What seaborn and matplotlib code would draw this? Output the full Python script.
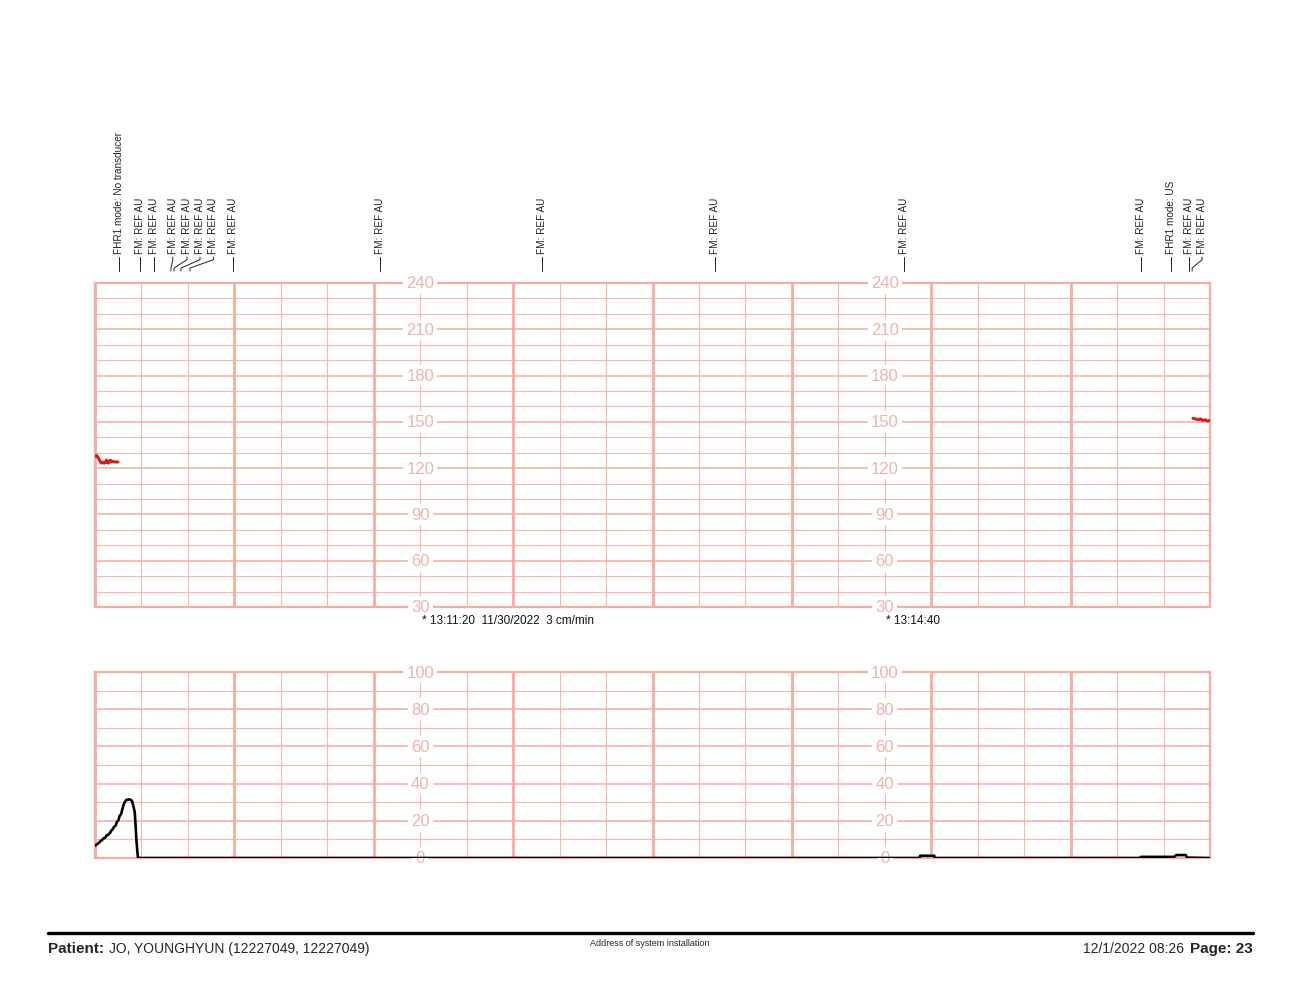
"""CTG strip page: FHR grid on top, TOCO grid below, event marks and footer"""

import numpy as np
import pandas as pd
import matplotlib
matplotlib.use('Agg')
import matplotlib.pyplot as plt
import matplotlib.transforms as mtrans
from matplotlib.lines import Line2D
import seaborn as sns

# --- data (seconds after 13:09:00) ---
fhr_a_sec = [0.1, 0.7, 1.3, 2.0, 2.7, 3.3, 3.9, 4.5, 4.9, 5.4, 5.9, 6.3, 6.7, 7.2, 7.7, 8.5, 9.9]
fhr_a_bpm = [127.8, 128.2, 127.0, 125.0, 123.3, 124.0, 123.2, 123.8, 125.2, 123.5, 123.3,
             124.8, 125.0, 124.2, 124.4, 124.0, 124.0]

fhr_b_sec = [472.7, 473.8, 474.9, 476.0, 476.7, 477.8, 478.8, 479.6]
fhr_b_bpm = [152.3, 151.9, 151.4, 151.9, 151.0, 151.3, 150.6, 150.8]

toco_sec = [0, 1, 1.6, 2.3, 3, 3.7, 4.4, 5, 5.7, 6.4, 7, 7.7, 8.2, 8.8, 9.5, 10.1, 10.6,
            11.2, 11.7, 12.3, 12.8, 13.5, 14.2, 15.0, 15.9, 16.5, 17.1, 17.5, 17.8,
            18.2, 18.5,
            355.0, 355.2, 361.3, 361.5, 450.0, 450.3, 464.5, 465.5, 469.5, 470.2, 479.6]
toco_val = [6.5, 7.6, 8.0, 9.0, 9.6, 10.6, 10.9, 12.2, 12.5, 13.4, 14.7, 15.6, 16.8, 17.2,
            19.6, 20.3, 22.7, 23.5, 25.8, 28.6, 30.0, 31.2, 31.4, 31.5, 30.8, 28.0, 24.7,
            17.0, 10.2, 4.0, 0.0,
            0.0, 1.2, 1.2, 0.0, 0.0, 0.6, 0.6, 1.6, 1.6, 0.2, 0.0]

fhr_scale = [240, 210, 180, 150, 120, 90, 60, 30]
toco_scale = [100, 80, 60, 40, 20, 0]
scale_sec = [140, 340]

stamp_sec = [140, 340]
stamp_text = ['* 13:11:20  11/30/2022  3 cm/min', '* 13:14:40']

event_text = ['FHR1 mode: No transducer', 'FM: REF AU', 'FM: REF AU', 'FM: REF AU',
              'FM: REF AU', 'FM: REF AU', 'FM: REF AU', 'FM: REF AU', 'FM: REF AU',
              'FM: REF AU', 'FM: REF AU', 'FM: REF AU', 'FM: REF AU', 'FHR1 mode: US',
              'FM: REF AU', 'FM: REF AU']
event_sec = [10.3, 19.4, 25.2, 32.7, 34.0, 37.0, 40.9, 59.4, 122.6, 192.3, 267.1,
             348.4, 450.1, 463.2, 471.0, 472.3]
label_sec = [10.3, 19.4, 25.2, 33.5, 39.6, 45.2, 51.0, 59.4, 122.6, 192.3, 267.1,
             348.4, 450.1, 463.2, 471.0, 476.6]

GRID = '#f4ada3'
LABEL = '#f0b2aa'
RED = '#d41e1e'

sns.set_style('white')
plt.rcParams['font.family'] = ['Liberation Sans', 'DejaVu Sans']

fig = plt.figure(figsize=(13, 10.04), dpi=100)
W, H = 1300, 1004


def px_axes(left, top, right, bottom):
    return fig.add_axes([left / W, 1 - bottom / H, (right - left) / W, (bottom - top) / H])


ax_fhr = px_axes(95, 284, 1210, 608)
ax_toco = px_axes(95, 673, 1210, 859)


def paper_grid(ax, ylim, ymajor, yminor):
    ax.set_xlim(0, 480)
    ax.set_ylim(*ylim)
    ax.set_xticks(np.arange(0, 481, 60))
    ax.set_xticks(np.arange(0, 481, 20), minor=True)
    ax.set_yticks(np.arange(ylim[0], ylim[1] + 1, ymajor))
    ax.set_yticks(np.arange(ylim[0], ylim[1] + 1, yminor), minor=True)
    ax.tick_params(which='both', length=0, labelbottom=False, labelleft=False)
    ax.set_axisbelow(True)
    ax.grid(which='minor', color=GRID, lw=0.8, alpha=0.85)
    ax.grid(which='major', axis='y', color=GRID, lw=1.1)
    ax.grid(which='major', axis='x', color=GRID, lw=2.0)
    for s in ax.spines.values():
        s.set_color(GRID)
        s.set_linewidth(1.6)
    ax.set_xlabel('')
    ax.set_ylabel('')


# FHR traces
sns.lineplot(data=pd.DataFrame({'sec': fhr_a_sec, 'bpm': fhr_a_bpm}), x='sec', y='bpm',
             ax=ax_fhr, color=RED, lw=2.2, sort=False, estimator=None, zorder=5)
sns.lineplot(data=pd.DataFrame({'sec': fhr_b_sec, 'bpm': fhr_b_bpm}), x='sec', y='bpm',
             ax=ax_fhr, color=RED, lw=2.2, sort=False, estimator=None, zorder=5)
paper_grid(ax_fhr, (30, 240), 30, 10)

# TOCO trace
sns.lineplot(data=pd.DataFrame({'sec': toco_sec, 'val': toco_val}), x='sec', y='val',
             ax=ax_toco, color='black', lw=1.9, sort=False, estimator=None, zorder=5)
paper_grid(ax_toco, (0, 100), 20, 10)

# scale numbers printed inside the grid
for ax, scale in [(ax_fhr, fhr_scale), (ax_toco, toco_scale)]:
    for xs in scale_sec:
        for v in scale:
            ax.text(xs, v, str(v), ha='center', va='center', fontsize=12, color=LABEL,
                    clip_on=False, zorder=3,
                    bbox=dict(boxstyle='square,pad=0.2', fc='white', ec='none'))

# time stamps under the FHR grid
tr_fhr = mtrans.blended_transform_factory(ax_fhr.transData, ax_fhr.transAxes)
for xs, txt in zip(stamp_sec, stamp_text):
    ax_fhr.text(xs + 0.7, -0.039, txt, transform=tr_fhr, ha='left', va='center',
                fontsize=8.5, color='#111111')

# event marks above the FHR grid
for ev, lab, txt in zip(event_sec, label_sec, event_text):
    if abs(ev - lab) < 0.5:
        xs, ys = [ev, ev], [1.037, 1.080]
    else:
        xs, ys = [ev, ev, lab, lab], [1.037, 1.046, 1.072, 1.080]
    ax_fhr.add_line(Line2D(xs, ys, transform=tr_fhr, color='#222222', lw=0.7,
                           clip_on=False))
    ax_fhr.text(lab, 1.094, txt, transform=tr_fhr, rotation=90, ha='center',
                va='bottom', fontsize=7.2, color='#222222')

# footer (shared baseline)
fig.add_artist(Line2D([48 / W, 1253 / W], [1 - 934 / H] * 2, color='black', lw=2.4))
fy = 1 - 953 / H
fig.text(48 / W, fy, 'Patient:', fontsize=11, fontweight='bold', va='baseline')
fig.text(109 / W, fy, 'JO, YOUNGHYUN (12227049, 12227049)', fontsize=10, va='baseline')
fig.text(590 / W, 1 - 946.5 / H, 'Address of system installation', fontsize=6.5,
         va='baseline')
fig.text(1253 / W, fy, 'Page: 23', fontsize=11, fontweight='bold', va='baseline',
         ha='right')
fig.text(1184 / W, fy, '12/1/2022 08:26', fontsize=10, va='baseline', ha='right')

fig.savefig('out.png', dpi=100)
